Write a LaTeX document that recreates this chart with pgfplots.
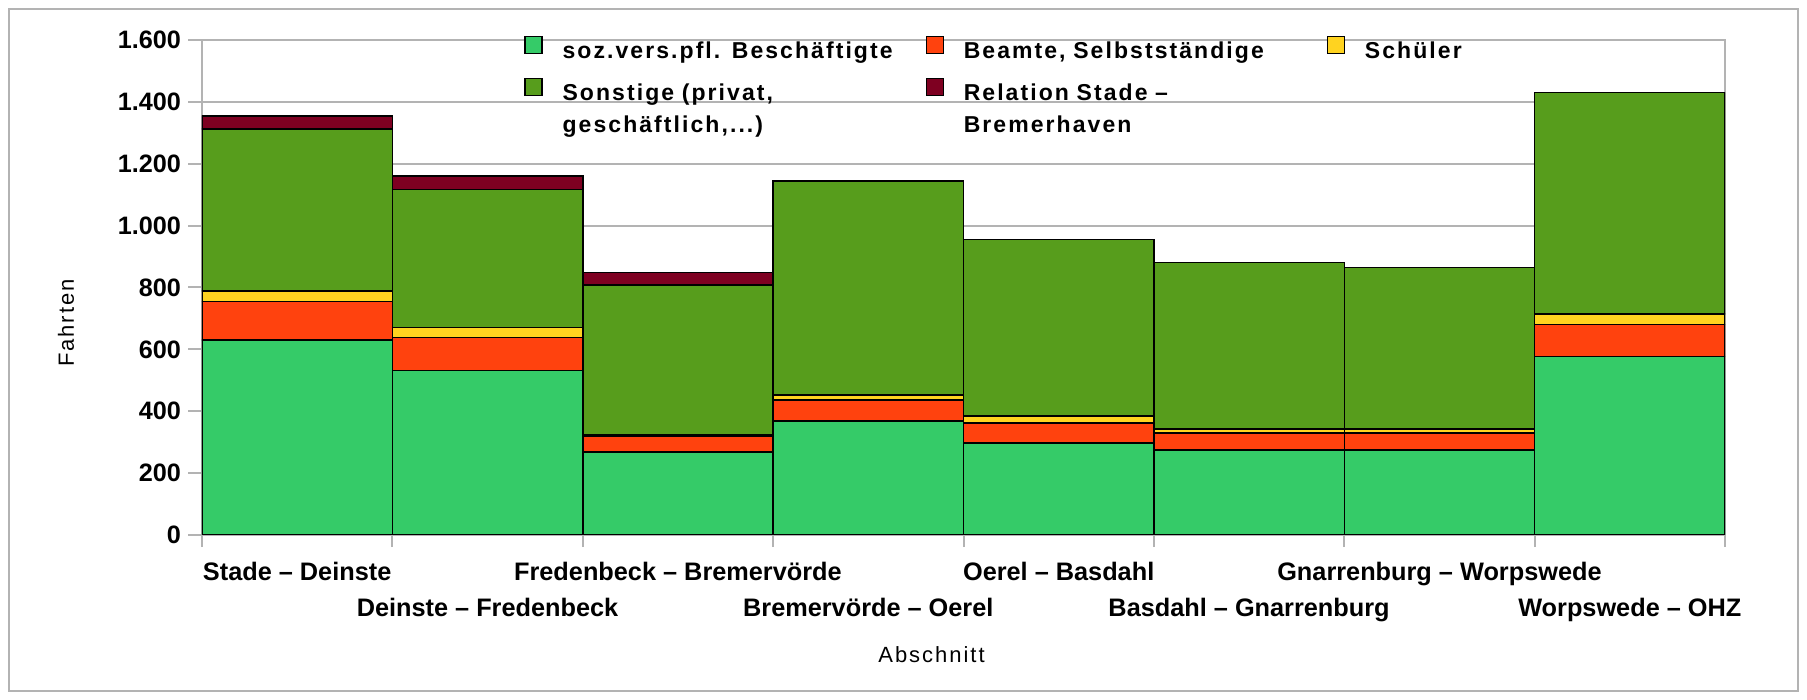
\documentclass[border=0pt]{standalone}
\usepackage{fontspec}
\setmainfont{Liberation Sans}
\newfontfamily\legfont[LetterSpace=9]{Liberation Sans}
\usepackage{pgfplots}
\usepackage{pgfplotstable}
\pgfplotsset{compat=1.18}
\definecolor{cSV}{HTML}{35CB68}
\definecolor{cBE}{HTML}{FF420E}
\definecolor{cSC}{HTML}{FFD320}
\definecolor{cSO}{HTML}{579D1C}
\definecolor{cRE}{HTML}{7E0021}
\definecolor{cGrid}{HTML}{B3B3B3}
\pgfplotstableread{
x sv be sc so re
0.5 630 125 33 524 43
1.5 532 106 32 447 43
2.5 268 52 3 485 40
3.5 368 69 15 693 0
4.5 298 64 23 570 0
5.5 275 55 13 537 0
6.5 275 55 13 522 0
7.5 577 103 35 715 0
}\datatable
\begin{document}
\begin{tikzpicture}
\useasboundingbox (-101pt,-82.5pt) rectangle (802.5pt,267.5pt);
\draw[cGrid, line width=1pt] (-96.5pt,-78pt) rectangle (798pt,263pt);
\begin{axis}[
  scale only axis, width=761.5pt, height=247.5pt,
  ybar stacked, bar width=1, bar shift=0pt,
  xmin=0, xmax=8, ymin=0, ymax=1600,
  enlarge x limits=false,
  xtick={0.5,1.5,2.5,3.5,4.5,5.5,6.5,7.5},
  xticklabels={
    {\strut Stade – Deinste},
    {\strut\\\strut Deinste – Fredenbeck},
    {\strut Fredenbeck – Bremervörde},
    {\strut\\\strut Bremervörde – Oerel},
    {\strut Oerel – Basdahl},
    {\strut\\\strut Basdahl – Gnarrenburg},
    {\strut Gnarrenburg – Worpswede},
    {\strut\\\strut Worpswede – OHZ}},
  minor xtick={0,1,2,3,4,5,6,7,8},
  ytick={0,200,400,600,800,1000,1200,1400,1600},
  tick align=outside,
  major tick length=7pt, minor tick length=6pt,
  major x tick style={draw=none},
  minor x tick style={cGrid, line width=1pt},
  y tick style={cGrid, line width=1pt},
  xtick pos=bottom, ytick pos=left,
  ymajorgrids, grid style={cGrid, line width=0.9pt},
  axis line style={cGrid, line width=0.9pt},
  /pgf/number format/assume math mode=true,
  /pgf/number format/1000 sep={.},
  yticklabel style={font=\bfseries\fontsize{12.6}{15}\selectfont},
  xticklabel style={font=\bfseries\fontsize{12.65}{18}\selectfont, align=center, anchor=north, inner sep=0pt, yshift=-2.9pt},
  xlabel={Abschnitt}, ylabel={Fahrten},
  xlabel style={at={(axis description cs:0.479,-0.2424)}, anchor=center, font=\legfont\fontsize{11}{13}\selectfont},
  ylabel style={at={(axis description cs:-0.0893,0.428)}, anchor=center, font=\legfont\fontsize{11}{13}\selectfont},
  legend columns=3,
  legend cell align=left,
  legend style={at={(axis description cs:0.2114,1.0)}, yshift=2.3pt, anchor=north west, draw=none, fill=none,
    inner sep=0pt, cells={align=left},
    nodes={inner sep=0pt},
    font=\legfont\bfseries\fontsize{11.5}{15.9}\selectfont,
    /tikz/every odd column/.append style={column sep=10pt},
    /tikz/every even column/.append style={text width=181.5pt, column sep=0pt},
    row sep=8.6pt},
  every axis plot post/.append style={draw=black, line width=0.75pt,
    legend image code/.code={\draw[##1, line width=0.6pt] (0pt,-1.1pt) rectangle (8.5pt,7.4pt);}},
]
\addplot[fill=cSV] table[x=x, y=sv] {\datatable};
\addlegendentry{soz.vers.pfl. Beschäftigte}
\addplot[fill=cBE] table[x=x, y=be] {\datatable};
\addlegendentry{Beamte, Selbstständige}
\addplot[fill=cSC] table[x=x, y=sc] {\datatable};
\addlegendentry{Schüler}
\addplot[fill=cSO] table[x=x, y=so] {\datatable};
\addlegendentry{Sonstige (privat,\\geschäftlich,.{}.{}.)}
\addplot[fill=cRE] table[x=x, y=re] {\datatable};
\addlegendentry{Relation Stade –\\Bremerhaven}
\end{axis}
\end{tikzpicture}
\end{document}
